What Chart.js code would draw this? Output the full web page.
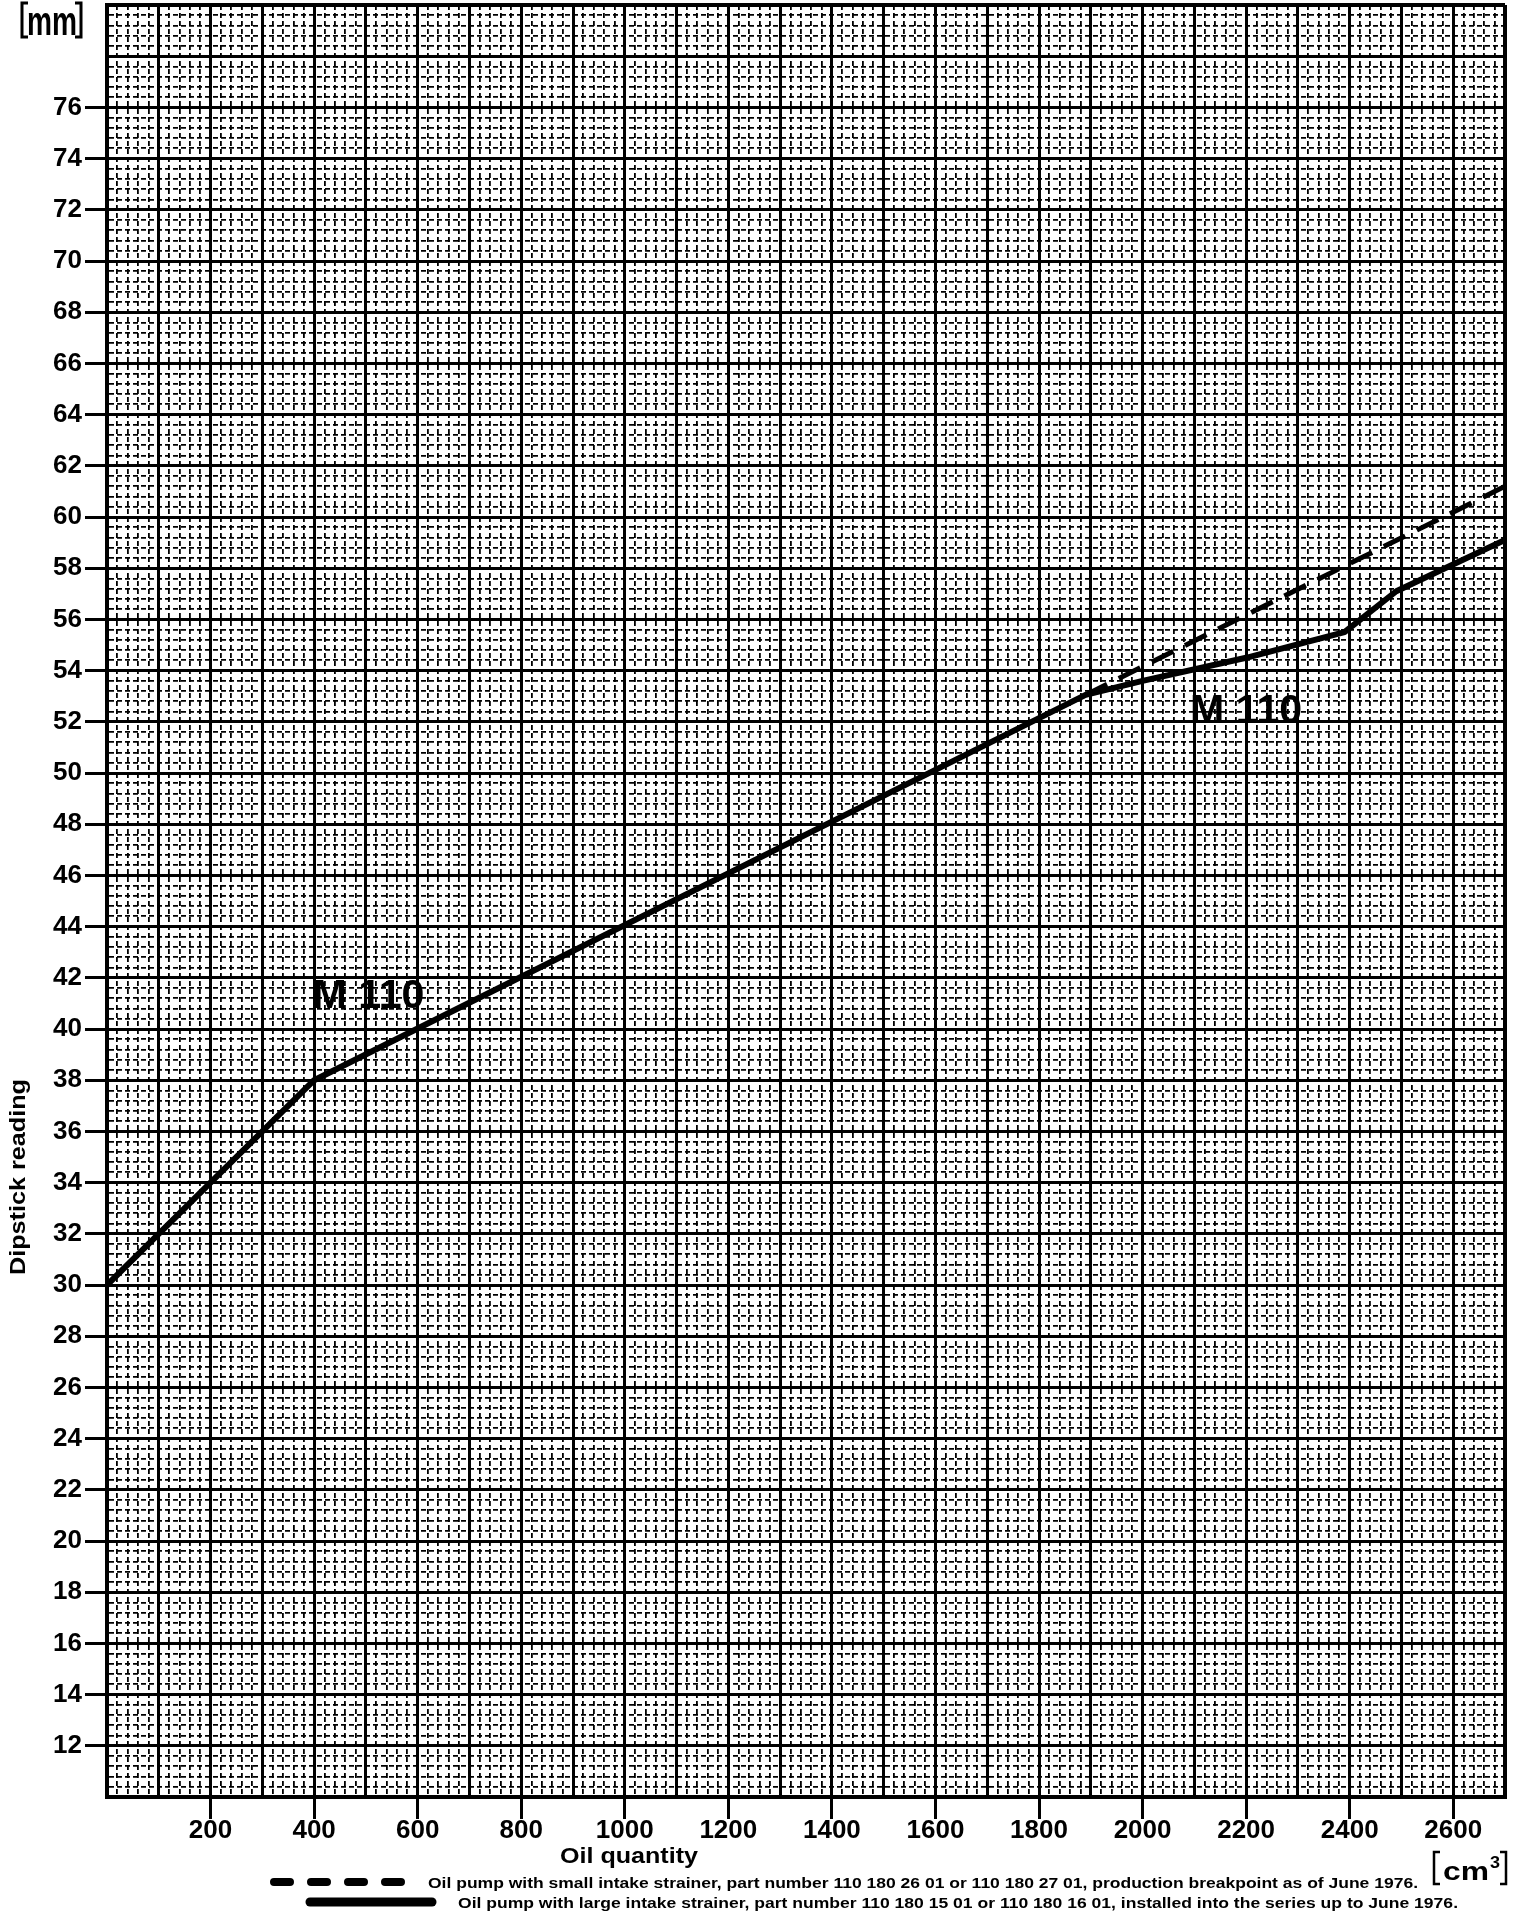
<!DOCTYPE html>
<html>
<head>
<meta charset="utf-8">
<script src="https://cdn.jsdelivr.net/npm/chart.js@4.4.1/dist/chart.umd.min.js"></script>
<style>
  html, body { margin: 0; padding: 0; background: #fff; }
  #wrap { width: 1520px; height: 1922px; }
</style>
</head>
<body>
<div id="wrap"><canvas id="chart" width="1520" height="1922"></canvas></div>
<script>
// oil quantity [cm3] vs dipstick reading [mm]
var largeStrainerX = [0, 400, 1890, 2000, 2200, 2390, 2490, 2700];
var largeStrainerY = [30, 38, 53.05, 53.6, 54.5, 55.5, 57.1, 59.1];
var smallStrainerX = [1890, 2700];
var smallStrainerY = [53.05, 61.2];

var xTickLabels = [200, 400, 600, 800, 1000, 1200, 1400, 1600, 1800, 2000, 2200, 2400, 2600];
var yTickLabels = [12, 14, 16, 18, 20, 22, 24, 26, 28, 30, 32, 34, 36, 38, 40, 42, 44, 46, 48, 50, 52, 54, 56, 58, 60, 62, 64, 66, 68, 70, 72, 74, 76];

var legendSmall = 'Oil pump with small intake strainer, part number 110 180 26 01 or 110 180 27 01, production breakpoint as of June 1976.';
var legendLarge = 'Oil pump with large intake strainer, part number 110 180 15 01 or 110 180 16 01, installed into the series up to June 1976.';

var X_MIN = 0, X_MAX = 2700, Y_MIN = 10, Y_MAX = 80;
var FONT = '"Liberation Sans", Arial, Helvetica, sans-serif';

function pts(xs, ys) {
    return xs.map(function(x, i) { return {x: x, y: ys[i]}; });
}

function isMajorX(v) { return v % 100 === 0; }
function isMajorY(v) { return Math.abs(v / 2 - Math.round(v / 2)) < 1e-6; }

// text squeezed/stretched to a given width (the sheet uses a condensed face)
function fitText(ctx, text, x, y, width, font, align) {
    ctx.save();
    ctx.font = font;
    var w = ctx.measureText(text).width;
    var sx = width / w;
    var left = align === 'center' ? x - width / 2 : x;
    ctx.translate(left, y);
    ctx.scale(sx, 1);
    ctx.textAlign = 'left';
    ctx.textBaseline = 'alphabetic';
    ctx.fillStyle = '#000';
    ctx.fillText(text, 0, 0);
    ctx.restore();
}

function bracket(ctx, x, y1, y2, dir) {
    ctx.beginPath();
    ctx.moveTo(x + dir * 6, y1);
    ctx.lineTo(x, y1);
    ctx.lineTo(x, y2);
    ctx.lineTo(x + dir * 6, y2);
    ctx.stroke();
}

var sheetText = {
    id: 'sheetText',
    afterDraw: function(chart) {
        var ctx = chart.ctx;
        var xs = chart.scales.x, ys = chart.scales.y;
        ctx.save();
        ctx.strokeStyle = '#000';
        ctx.lineWidth = 3;

        // [mm]
        bracket(ctx, 22, 3, 37, 1);
        bracket(ctx, 81, 3, 37, -1);
        fitText(ctx, 'mm', 52, 35, 50, 'bold 40px ' + FONT, 'center');

        // [cm3]
        ctx.lineWidth = 2.5;
        bracket(ctx, 1434, 1852, 1884, 1);
        bracket(ctx, 1506, 1852, 1884, -1);
        fitText(ctx, 'cm', 1443, 1880, 46, 'bold 26px ' + FONT, 'left');
        fitText(ctx, '3', 1490, 1868, 10, 'bold 16px ' + FONT, 'left');

        // axis titles
        ctx.save();
        ctx.translate(25, 1177);
        ctx.rotate(-Math.PI / 2);
        fitText(ctx, 'Dipstick reading', 0, 0, 196, 'bold 22px ' + FONT, 'center');
        ctx.restore();
        fitText(ctx, 'Oil quantity', 629, 1863, 138, 'bold 22px ' + FONT, 'center');

        // curve labels
        var labelFont = 'bold 40px ' + FONT;
        fitText(ctx, 'M 110', xs.getPixelForValue(505), ys.getPixelForValue(41.36) + 14, 112, labelFont, 'center');
        fitText(ctx, 'M 110', xs.getPixelForValue(2200), ys.getPixelForValue(52.5) + 14, 112, labelFont, 'center');

        // legend
        var dsSmall = chart.data.datasets[0], dsLarge = chart.data.datasets[1];
        ctx.strokeStyle = dsSmall.borderColor;
        ctx.lineWidth = 8;
        ctx.lineCap = 'round';
        ctx.setLineDash([16, 21]);
        ctx.beginPath();
        ctx.moveTo(274, 1882);
        ctx.lineTo(405, 1882);
        ctx.stroke();
        ctx.setLineDash([]);
        ctx.strokeStyle = dsLarge.borderColor;
        ctx.lineWidth = 9;
        ctx.beginPath();
        ctx.moveTo(310, 1902);
        ctx.lineTo(432, 1902);
        ctx.stroke();
        fitText(ctx, legendSmall, 428, 1888, 990, 'bold 15px ' + FONT, 'left');
        fitText(ctx, legendLarge, 458, 1908, 1000, 'bold 15px ' + FONT, 'left');
        ctx.restore();
    }
};

var ctx = document.getElementById('chart').getContext('2d');
var chart = new Chart(ctx, {
    type: 'line',
    data: {
        datasets: [{
            label: legendSmall,
            data: pts(smallStrainerX, smallStrainerY),
            borderColor: '#000',
            borderWidth: 5,
            borderDash: [24, 13],
            pointRadius: 0,
            tension: 0
        }, {
            label: legendLarge,
            data: pts(largeStrainerX, largeStrainerY),
            borderColor: '#000',
            borderWidth: 6,
            borderJoinStyle: 'round',
            pointRadius: 0,
            tension: 0
        }]
    },
    options: {
        responsive: false,
        animation: false,
        devicePixelRatio: 1,
        layout: { padding: { top: 5, right: 15, left: 0, bottom: 0 } },
        plugins: { legend: { display: false }, tooltip: { enabled: false } },
        scales: {
            x: {
                type: 'linear',
                min: X_MIN,
                max: X_MAX,
                afterBuildTicks: function(scale) {
                    var t = [];
                    for (var v = X_MIN; v <= X_MAX; v += 20) t.push({value: v});
                    scale.ticks = t;
                },
                afterFit: function(scale) {
                    scale.height = 125;
                    scale.paddingLeft = 0;
                    scale.paddingRight = 0;
                },
                ticks: {
                    autoSkip: false,
                    maxRotation: 0,
                    minRotation: 0,
                    padding: -4,
                    color: '#000',
                    font: { family: FONT, size: 26, weight: 'bold' },
                    callback: function(v) { return xTickLabels.indexOf(v) >= 0 ? String(v) : ''; }
                },
                grid: {
                    color: '#000',
                    lineWidth: function(c) {
                        if (!c.tick) return 1;
                        if (c.tick.value === X_MAX) return 4;
                        return isMajorX(c.tick.value) ? 3 : 1.8;
                    },
                    tickColor: function(c) { return c.tick && xTickLabels.indexOf(c.tick.value) >= 0 ? '#000' : 'rgba(0,0,0,0)'; },
                    tickWidth: 3,
                    tickLength: 22
                },
                border: {
                    display: true,
                    color: '#000',
                    width: 4,
                    dash: function(c) { return c.tick && !isMajorX(c.tick.value) ? [5, 3] : []; }
                }
            },
            y: {
                type: 'linear',
                min: Y_MIN,
                max: Y_MAX,
                afterBuildTicks: function(scale) {
                    var t = [];
                    for (var i = 0; i <= 175; i++) t.push({value: Math.round((Y_MIN + i * 0.4) * 10) / 10});
                    scale.ticks = t;
                },
                afterFit: function(scale) {
                    scale.width = 107;
                    scale.paddingTop = 0;
                    scale.paddingBottom = 0;
                },
                ticks: {
                    autoSkip: false,
                    padding: 3,
                    color: '#000',
                    font: { family: FONT, size: 26, weight: 'bold' },
                    callback: function(v) { return yTickLabels.indexOf(v) >= 0 ? String(v) : ''; }
                },
                grid: {
                    color: '#000',
                    lineWidth: function(c) {
                        if (!c.tick) return 1;
                        if (c.tick.value === Y_MAX) return 4;
                        return isMajorY(c.tick.value) ? 3 : 1.8;
                    },
                    tickColor: function(c) { return c.tick && yTickLabels.indexOf(c.tick.value) >= 0 ? '#000' : 'rgba(0,0,0,0)'; },
                    tickWidth: 3,
                    tickLength: 22
                },
                border: {
                    display: true,
                    color: '#000',
                    width: 4,
                    dash: function(c) { return c.tick && !isMajorY(c.tick.value) ? [5, 3] : []; }
                }
            }
        }
    },
    plugins: [sheetText]
});
</script>
</body>
</html>
